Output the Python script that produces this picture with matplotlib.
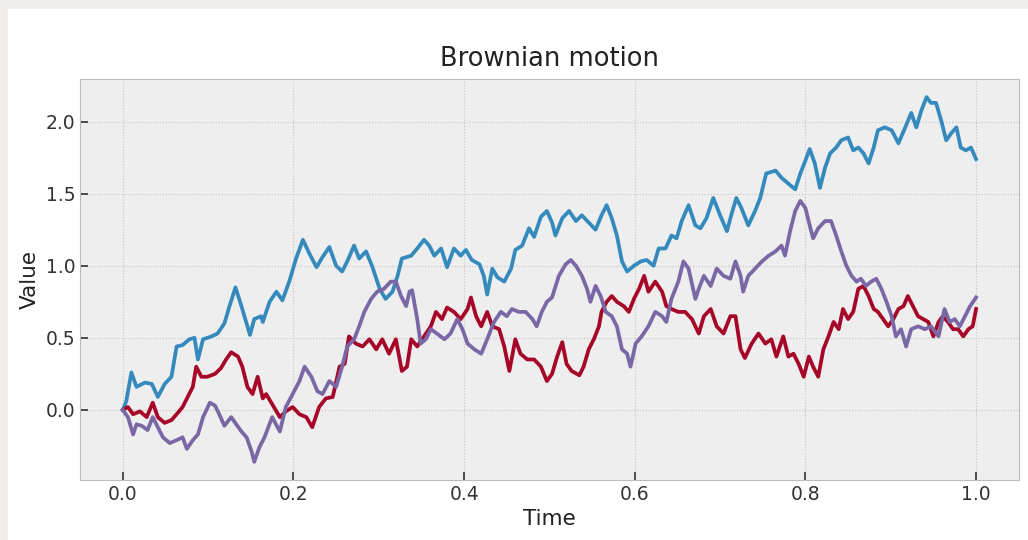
import matplotlib
matplotlib.use("Agg")
import matplotlib.pyplot as plt
from matplotlib.patches import Rectangle

# values
t_blue = [0.000, 0.004, 0.010, 0.016, 0.026, 0.034, 0.041, 0.049, 0.057, 0.063,
          0.070, 0.078, 0.084, 0.088, 0.094, 0.104, 0.111, 0.119, 0.125, 0.132,
          0.139, 0.149, 0.154, 0.162, 0.164, 0.172, 0.180, 0.187, 0.195, 0.203,
          0.211, 0.219, 0.227, 0.234, 0.242, 0.250, 0.257, 0.263, 0.271, 0.277,
          0.285, 0.292, 0.301, 0.308, 0.316, 0.322, 0.327, 0.338, 0.345, 0.353,
          0.359, 0.365, 0.373, 0.380, 0.388, 0.396, 0.402, 0.409, 0.418, 0.423,
          0.427, 0.433, 0.439, 0.447, 0.455, 0.460, 0.468, 0.476, 0.482, 0.490,
          0.497, 0.503, 0.507, 0.515, 0.523, 0.531, 0.538, 0.546, 0.554, 0.561,
          0.567, 0.573, 0.579, 0.585, 0.591, 0.599, 0.607, 0.614, 0.622, 0.628,
          0.636, 0.643, 0.649, 0.655, 0.663, 0.671, 0.677, 0.684, 0.692, 0.700,
          0.708, 0.713, 0.719, 0.725, 0.733, 0.741, 0.747, 0.754, 0.765, 0.772,
          0.780, 0.788, 0.794, 0.800, 0.805, 0.811, 0.817, 0.823, 0.829, 0.836,
          0.842, 0.850, 0.856, 0.862, 0.868, 0.874, 0.880, 0.885, 0.893, 0.901,
          0.909, 0.917, 0.924, 0.930, 0.936, 0.942, 0.947, 0.953, 0.959, 0.965,
          0.971, 0.977, 0.982, 0.988, 0.994, 1.000]
v_blue = [0.00, 0.06, 0.26, 0.16, 0.19, 0.18, 0.09, 0.18, 0.23, 0.44,
          0.45, 0.49, 0.50, 0.35, 0.49, 0.51, 0.53, 0.60, 0.72, 0.85,
          0.72, 0.52, 0.63, 0.65, 0.61, 0.75, 0.82, 0.76, 0.89, 1.05,
          1.18, 1.08, 0.99, 1.06, 1.13, 1.00, 0.96, 1.03, 1.14, 1.05,
          1.10, 1.00, 0.84, 0.77, 0.82, 0.93, 1.05, 1.07, 1.12, 1.18,
          1.14, 1.07, 1.12, 0.99, 1.12, 1.07, 1.11, 1.04, 1.01, 0.93,
          0.80, 0.98, 0.92, 0.89, 0.98, 1.11, 1.14, 1.26, 1.20, 1.34,
          1.38, 1.30, 1.21, 1.33, 1.38, 1.31, 1.35, 1.30, 1.25, 1.35,
          1.42, 1.33, 1.21, 1.03, 0.96, 1.00, 1.03, 1.04, 1.00, 1.12,
          1.12, 1.21, 1.19, 1.31, 1.42, 1.28, 1.26, 1.33, 1.47, 1.35,
          1.24, 1.35, 1.47, 1.40, 1.28, 1.38, 1.47, 1.64, 1.66, 1.61,
          1.57, 1.53, 1.64, 1.73, 1.81, 1.71, 1.54, 1.68, 1.78, 1.82,
          1.87, 1.89, 1.80, 1.82, 1.78, 1.71, 1.82, 1.94, 1.96, 1.94,
          1.85, 1.96, 2.06, 1.96, 2.08, 2.17, 2.13, 2.13, 2.01, 1.87,
          1.92, 1.96, 1.82, 1.80, 1.82, 1.74]

t_red = [0.000, 0.006, 0.012, 0.020, 0.028, 0.035, 0.041, 0.049, 0.057, 0.063,
         0.070, 0.076, 0.082, 0.086, 0.092, 0.099, 0.108, 0.115, 0.121, 0.127,
         0.135, 0.140, 0.146, 0.152, 0.158, 0.164, 0.168, 0.175, 0.184, 0.191,
         0.199, 0.207, 0.215, 0.222, 0.230, 0.238, 0.246, 0.254, 0.260, 0.265,
         0.273, 0.281, 0.289, 0.297, 0.304, 0.312, 0.320, 0.327, 0.333, 0.338,
         0.345, 0.353, 0.361, 0.367, 0.374, 0.380, 0.388, 0.396, 0.404, 0.408,
         0.414, 0.420, 0.427, 0.433, 0.441, 0.447, 0.453, 0.460, 0.466, 0.474,
         0.482, 0.490, 0.497, 0.503, 0.509, 0.515, 0.520, 0.526, 0.535, 0.540,
         0.546, 0.552, 0.558, 0.561, 0.567, 0.573, 0.579, 0.587, 0.593, 0.599,
         0.605, 0.611, 0.616, 0.624, 0.632, 0.637, 0.643, 0.651, 0.659, 0.667,
         0.675, 0.681, 0.689, 0.696, 0.704, 0.712, 0.718, 0.724, 0.729, 0.737,
         0.745, 0.753, 0.760, 0.766, 0.774, 0.780, 0.786, 0.792, 0.798, 0.804,
         0.809, 0.815, 0.821, 0.827, 0.833, 0.839, 0.844, 0.850, 0.856, 0.862,
         0.868, 0.874, 0.880, 0.885, 0.891, 0.897, 0.903, 0.909, 0.915, 0.920,
         0.926, 0.932, 0.938, 0.944, 0.950, 0.956, 0.961, 0.967, 0.973, 0.979,
         0.985, 0.991, 0.996, 1.000]
v_red = [0.00, 0.02, -0.03, -0.01, -0.05, 0.05, -0.05, -0.09, -0.07, -0.03,
         0.02, 0.09, 0.16, 0.30, 0.23, 0.23, 0.25, 0.29, 0.35, 0.40,
         0.37, 0.30, 0.16, 0.11, 0.23, 0.08, 0.11, 0.04, -0.05, -0.01,
         0.02, -0.03, -0.05, -0.12, 0.02, 0.08, 0.09, 0.30, 0.32, 0.51,
         0.46, 0.44, 0.49, 0.42, 0.49, 0.39, 0.49, 0.27, 0.30, 0.49,
         0.44, 0.51, 0.58, 0.68, 0.63, 0.71, 0.68, 0.63, 0.70, 0.78,
         0.65, 0.58, 0.68, 0.58, 0.56, 0.44, 0.27, 0.49, 0.39, 0.35,
         0.35, 0.30, 0.20, 0.25, 0.37, 0.47, 0.32, 0.27, 0.24, 0.30,
         0.42, 0.49, 0.58, 0.68, 0.75, 0.79, 0.75, 0.72, 0.68, 0.77,
         0.84, 0.93, 0.82, 0.89, 0.82, 0.72, 0.70, 0.68, 0.68, 0.63,
         0.53, 0.65, 0.70, 0.58, 0.53, 0.65, 0.65, 0.42, 0.36, 0.46,
         0.53, 0.46, 0.49, 0.37, 0.51, 0.37, 0.39, 0.32, 0.23, 0.37,
         0.30, 0.23, 0.42, 0.51, 0.61, 0.56, 0.70, 0.63, 0.68, 0.84,
         0.86, 0.79, 0.70, 0.68, 0.63, 0.58, 0.63, 0.70, 0.72, 0.79,
         0.72, 0.65, 0.63, 0.61, 0.51, 0.61, 0.65, 0.61, 0.56, 0.56,
         0.51, 0.56, 0.58, 0.70]

t_purple = [0.000, 0.006, 0.012, 0.016, 0.022, 0.029, 0.035, 0.041, 0.047, 0.055,
            0.063, 0.070, 0.075, 0.082, 0.088, 0.094, 0.102, 0.108, 0.113, 0.119,
            0.127, 0.133, 0.139, 0.145, 0.151, 0.154, 0.160, 0.166, 0.175, 0.184,
            0.191, 0.199, 0.207, 0.213, 0.221, 0.228, 0.234, 0.242, 0.250, 0.257,
            0.263, 0.271, 0.277, 0.283, 0.291, 0.298, 0.306, 0.314, 0.320, 0.326,
            0.332, 0.336, 0.339, 0.345, 0.349, 0.355, 0.361, 0.368, 0.377, 0.384,
            0.392, 0.398, 0.404, 0.412, 0.420, 0.427, 0.435, 0.443, 0.450, 0.456,
            0.464, 0.472, 0.480, 0.485, 0.491, 0.497, 0.503, 0.511, 0.519, 0.525,
            0.531, 0.538, 0.544, 0.548, 0.554, 0.560, 0.566, 0.573, 0.579, 0.585,
            0.591, 0.595, 0.601, 0.608, 0.616, 0.624, 0.632, 0.637, 0.643, 0.651,
            0.657, 0.663, 0.671, 0.675, 0.681, 0.689, 0.696, 0.704, 0.712, 0.718,
            0.724, 0.727, 0.733, 0.741, 0.749, 0.757, 0.765, 0.772, 0.776, 0.782,
            0.788, 0.794, 0.800, 0.805, 0.809, 0.815, 0.823, 0.830, 0.836, 0.842,
            0.848, 0.854, 0.860, 0.865, 0.871, 0.877, 0.883, 0.889, 0.895, 0.901,
            0.906, 0.912, 0.918, 0.924, 0.932, 0.940, 0.947, 0.956, 0.963, 0.969,
            0.975, 0.981, 0.987, 0.993, 1.000]
v_purple = [0.00, -0.05, -0.17, -0.10, -0.11, -0.14, -0.05, -0.12, -0.19, -0.23,
            -0.21, -0.19, -0.27, -0.21, -0.17, -0.05, 0.05, 0.03, -0.03, -0.11,
            -0.05, -0.10, -0.15, -0.19, -0.29, -0.36, -0.26, -0.19, -0.05, -0.15,
            0.02, 0.11, 0.20, 0.30, 0.23, 0.13, 0.11, 0.20, 0.16, 0.30,
            0.44, 0.49, 0.58, 0.68, 0.77, 0.82, 0.84, 0.89, 0.89, 0.79,
            0.72, 0.82, 0.83, 0.63, 0.46, 0.49, 0.56, 0.53, 0.49, 0.53,
            0.63, 0.56, 0.46, 0.42, 0.39, 0.49, 0.61, 0.68, 0.65, 0.70,
            0.68, 0.68, 0.63, 0.58, 0.68, 0.75, 0.78, 0.93, 1.01, 1.04,
            1.00, 0.93, 0.84, 0.75, 0.86, 0.79, 0.68, 0.65, 0.58, 0.42,
            0.39, 0.30, 0.46, 0.51, 0.58, 0.68, 0.65, 0.61, 0.77, 0.89,
            1.03, 0.98, 0.77, 0.84, 0.93, 0.86, 0.98, 0.93, 0.91, 1.03,
            0.93, 0.82, 0.93, 0.98, 1.03, 1.07, 1.10, 1.14, 1.07, 1.24,
            1.38, 1.45, 1.40, 1.28, 1.19, 1.26, 1.31, 1.31, 1.21, 1.10,
            1.00, 0.93, 0.89, 0.91, 0.86, 0.89, 0.91, 0.84, 0.75, 0.65,
            0.51, 0.56, 0.44, 0.56, 0.58, 0.56, 0.58, 0.51, 0.70, 0.61,
            0.63, 0.58, 0.65, 0.72, 0.78]

plt.style.use("bmh")
plt.rcParams["font.family"] = ["DejaVu Sans"]
plt.rcParams["xtick.major.size"] = 6
plt.rcParams["ytick.major.size"] = 6

fig = plt.figure(figsize=(10.28, 5.4), dpi=100, facecolor="white")
# grey frame of the screenshot (top and left edges)
fig.patches.append(Rectangle((0, 0.985), 1, 0.015, transform=fig.transFigure,
                             color="#efeeed", zorder=-1))
fig.patches.append(Rectangle((0, 0), 0.007, 1, transform=fig.transFigure,
                             color="#efeeed", zorder=-1))

ax = fig.add_axes([0.078, 0.111, 0.913, 0.743])
for t, v in [(t_blue, v_blue), (t_red, v_red), (t_purple, v_purple)]:
    ax.plot(t, v, linewidth=2.7)

ax.set_title("Brownian motion", fontsize=18.5, pad=9, color="#222222")
ax.set_xlabel("Time", fontsize=15.5, color="#222222")
ax.set_ylabel("Value", fontsize=15.5, color="#222222")
ax.set_xticks([0.0, 0.2, 0.4, 0.6, 0.8, 1.0])
ax.set_yticks([0.0, 0.5, 1.0, 1.5, 2.0])
ax.tick_params(which="major", labelsize=13.5, labelcolor="#333333",
               direction="in", length=6, width=1.2, color="#333333")
ax.grid(True, linewidth=0.8, linestyle=":", color="#c4c4c4")
ax.set_axisbelow(True)

fig.savefig("out.png", dpi=100)
